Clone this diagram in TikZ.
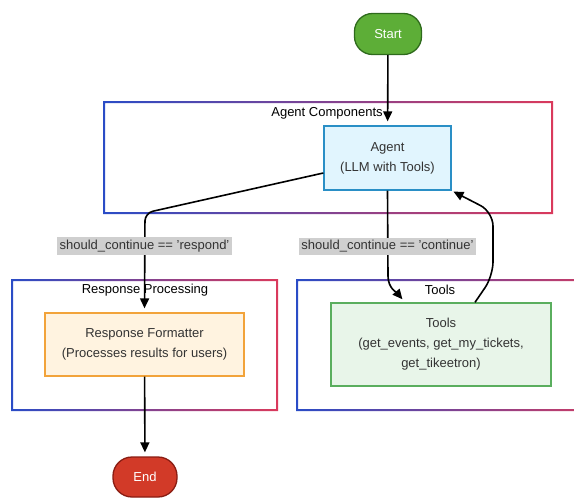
\documentclass[tikz,border=0pt]{standalone}
\usepackage{fontspec}
\setmainfont{Liberation Sans}
\usetikzlibrary{arrows.meta,shapes.geometric,calc}
\definecolor{txt}{HTML}{333333}
\definecolor{fblue}{HTML}{2A4CC6}
\definecolor{fred}{HTML}{DA3A5C}
\definecolor{agentfill}{HTML}{E1F5FE}
\definecolor{agentdraw}{HTML}{2A8FC6}
\definecolor{fmtfill}{HTML}{FFF3E0}
\definecolor{fmtdraw}{HTML}{F2A33A}
\definecolor{toolfill}{HTML}{E8F5E9}
\definecolor{tooldraw}{HTML}{5AAE5E}
\definecolor{startfill}{HTML}{5DAE37}
\definecolor{startdraw}{HTML}{2E6A1C}
\definecolor{endfill}{HTML}{D23A28}
\definecolor{enddraw}{HTML}{8A1C12}
\definecolor{lblgray}{HTML}{CFCFCF}
\newcommand{\gframe}[4]{%
  \shade[even odd rule, left color=fblue, right color=fred]
    (#1-1,#2-1) rectangle (#3+1,#4+1) (#1+1,#2+1) rectangle (#3-1,#4-1);}
\tikzset{
  box/.style={draw, line width=1.3pt, align=center, text=txt, inner sep=0pt},
  term/.style={draw, line width=1.3pt, text=white, rounded corners=18pt, inner sep=0pt},
  title/.style={text=black, inner sep=1pt},
  lbl/.style={fill=lblgray, text=txt, inner sep=2.5pt},
  arr/.style={draw, line width=1.6pt, -{Triangle[length=10pt,width=9pt]}, shorten >=4pt},
}
\begin{document}
\begin{tikzpicture}[x=1pt,y=-1pt, font=\fontsize{13}{20}\selectfont]
\useasboundingbox (0,0) rectangle (574,498);
% group frames
\gframe{104}{102}{552}{213}
\gframe{12}{280}{277}{410}
\gframe{297}{280}{620}{410}
\node[title] (tagent) at (327,113) {Agent Components};
\node[title] (tresp) at (145,290) {Response Processing};
\node[title] (ttools) at (440,290) {Tools};
% nodes
\node[term, fill=startfill, draw=startdraw, minimum width=67pt, minimum height=41pt] (start) at (388,34) {Start};
\node[box, fill=agentfill, draw=agentdraw, minimum width=127pt, minimum height=64pt] (agent) at (387.5,158) {Agent\\(LLM with Tools)};
\node[box, fill=fmtfill, draw=fmtdraw, minimum width=199pt, minimum height=63pt] (fmt) at (144.5,344.5) {Response Formatter\\(Processes results for users)};
\node[box, fill=toolfill, draw=tooldraw, minimum width=220pt, minimum height=83pt] (tools) at (441,344.5) {Tools\\(get\_events, get\_my\_tickets,\\get\_tikeetron)};
\node[term, fill=endfill, draw=enddraw, rounded corners=19pt, minimum width=64pt, minimum height=40pt] (end) at (145,477) {End};
% connectors
\draw[arr] (start) -- (agent);
\draw[arr, rounded corners=8pt] ([yshift=-15pt]agent.west) -- (145,213) -- (fmt.north);
\draw[arr] (agent.south) -- (388,276) to[out=-90,in=130] ([xshift=-36pt]tools.north);
\draw[arr, rounded corners=14pt, shorten >=2pt] ([xshift=34pt]tools.north) -- (493,276) -- (493,212) -- (agent.south east);
\draw[arr] (fmt) -- (end);
% labels
\node[lbl] (lresp) at (144.5,246) {should\_continue == 'respond'};
\node[lbl] (lcont) at (387.5,246) {should\_continue == 'continue'};
\end{tikzpicture}
\end{document}
